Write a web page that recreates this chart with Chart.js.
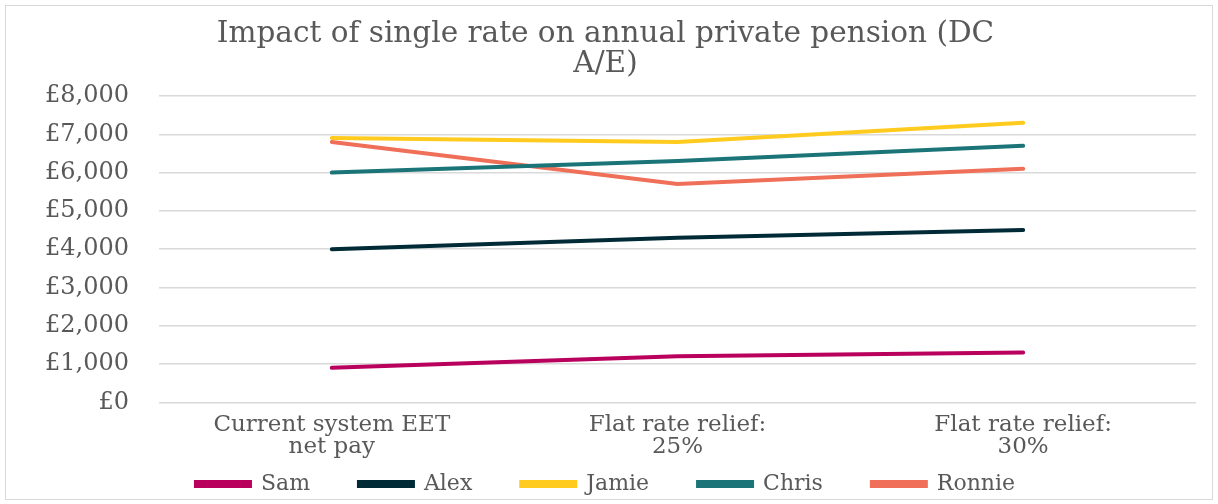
<!DOCTYPE html>
<html>
<head>
<meta charset="utf-8">
<script src="https://cdn.jsdelivr.net/npm/chart.js@4"></script>
<style>
  html, body { margin: 0; padding: 0; background: #fff; }
  #box {
    position: absolute; left: 5px; top: 5px;
    width: 1206px; height: 493px;
    border: 1px solid #d9d9d9;
  }
</style>
</head>
<body>
<div id="box"><canvas id="myChart"></canvas></div>
<script>
const categories = [
  ['Current system EET', 'net pay'],
  ['Flat rate relief:', '25%'],
  ['Flat rate relief:', '30%']
];
const sam = [900, 1200, 1300];
const alex = [4000, 4300, 4500];
const jamie = [6900, 6800, 7300];
const chris = [6000, 6300, 6700];
const ronnie = [6800, 5700, 6100];

function line(label, values, colour) {
  return {
    label: label,
    data: values,
    borderColor: colour,
    backgroundColor: colour,
    borderWidth: 4,
    borderCapStyle: 'round',
    pointRadius: 0,
    tension: 0
  };
}

const serif = 'DejaVu Serif';
const grey = '#595959';

const ctx = document.getElementById('myChart');
new Chart(ctx, {
  type: 'line',
  data: {
    labels: categories,
    datasets: [
      line('Sam', sam, '#b8005c'),
      line('Alex', alex, '#002b36'),
      line('Jamie', jamie, '#ffcb1f'),
      line('Chris', chris, '#1b7478'),
      line('Ronnie', ronnie, '#ef6f58')
    ]
  },
  options: {
    responsive: true,
    maintainAspectRatio: false,
    animation: false,
    layout: { padding: { left: 9, right: 16, top: 0, bottom: -6 } },
    plugins: {
      title: {
        display: true,
        text: ['Impact of single rate on annual private pension (DC', 'A/E)'],
        color: grey,
        font: { family: serif, size: 29.5, weight: 'normal', lineHeight: 1.0 },
        padding: { top: 14, bottom: 17 }
      },
      legend: {
        position: 'bottom',
        labels: {
          color: grey,
          font: { family: serif, size: 22, lineHeight: 1.0 },
          boxWidth: 54,
          boxHeight: 4,
          padding: 0,
          generateLabels: function (chart) {
            // the gaps between legend items are made with spaces so the row can sit low
            const items = Chart.defaults.plugins.legend.labels.generateLabels(chart);
            items.forEach(function (it, i) {
              if (i < items.length - 1) it.text = it.text + '       ';
            });
            return items;
          }
        }
      },
      tooltip: { enabled: false }
    },
    scales: {
      x: {
        offset: true,
        grid: { display: false },
        border: { display: false },
        afterFit: function (scale) { scale.height += 11; },
        ticks: {
          color: grey,
          font: { family: serif, size: 23, lineHeight: 0.95 },
          maxRotation: 0,
          padding: 4
        }
      },
      y: {
        min: 0,
        max: 8000,
        grid: { color: '#d9d9d9', lineWidth: 1.5, drawTicks: false },
        border: { display: false },
        ticks: {
          stepSize: 1000,
          color: grey,
          font: { family: serif, size: 24 },
          padding: 30,
          callback: function (v) { return '£' + v.toLocaleString('en-GB'); }
        }
      }
    }
  }
});
</script>
</body>
</html>
